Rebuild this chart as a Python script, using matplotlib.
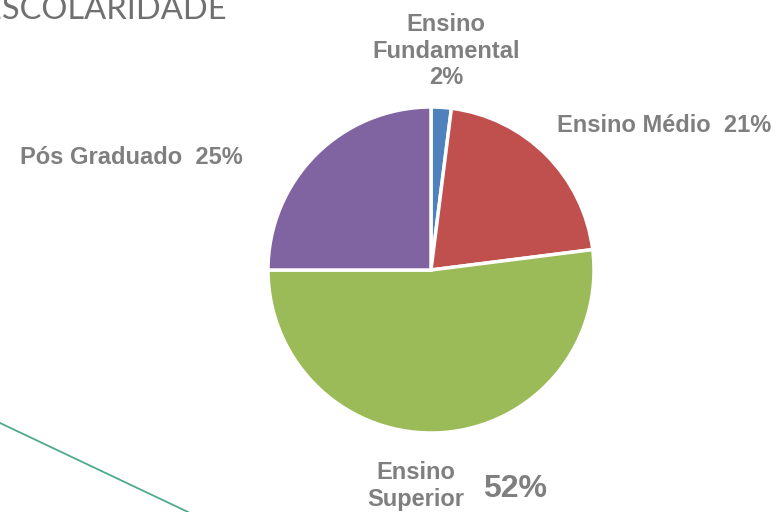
import matplotlib.pyplot as plt

categorias = ["Ensino Fundamental", "Ensino Médio", "Ensino Superior", "Pós Graduado"]
valores = [2, 21, 52, 25]
cores = ["#4F81BD", "#C0504D", "#9BBB59", "#8064A2"]

W, H = 778, 512
fig = plt.figure(figsize=(W / 100, H / 100), dpi=100)
ax = fig.add_axes([0, 0, 1, 1])

# pizza, centro e raio em pixels (y para cima)
ax.pie(valores, colors=cores, startangle=90, counterclock=False,
       center=(431, H - 270), radius=163, frame=True,
       wedgeprops={"edgecolor": "white", "linewidth": 2.5})
ax.set_xlim(0, W)
ax.set_ylim(0, H)
ax.set_aspect("equal")
ax.axis("off")

cinza = "#7F7F7F"
fonte = "Liberation Sans"
estilo = dict(color=cinza, fontweight="bold", family=fonte, fontsize=17)

ax.text(446, H - 51, "Ensino\nFundamental\n%d%%" % valores[0], ha="center", va="center",
        linespacing=1.22, **estilo)
ax.text(557, H - 125, "Ensino Médio  %d%%" % valores[1], ha="left", va="center", **estilo)
ax.text(20, H - 158, "Pós Graduado  %d%%" % valores[3], ha="left", va="center", **estilo)
ax.text(416, H - 486, "Ensino\nSuperior", ha="center", va="center", linespacing=1.22, **estilo)
ax.text(515, H - 489, "%d%%" % valores[2], ha="center", va="center",
        color=cinza, fontweight="bold", family=fonte, fontsize=23)

# titulo cortado no canto
ax.text(227, H - 19, "ESCOLARIDADE", ha="right", va="baseline", color="#707070",
        family="Lato", fontsize=23.5)

# linha decorativa
ax.plot([0, 188], [H - 423, 0], color="#4FAA8C", linewidth=1.3)

fig.savefig("out.png", dpi=100)
